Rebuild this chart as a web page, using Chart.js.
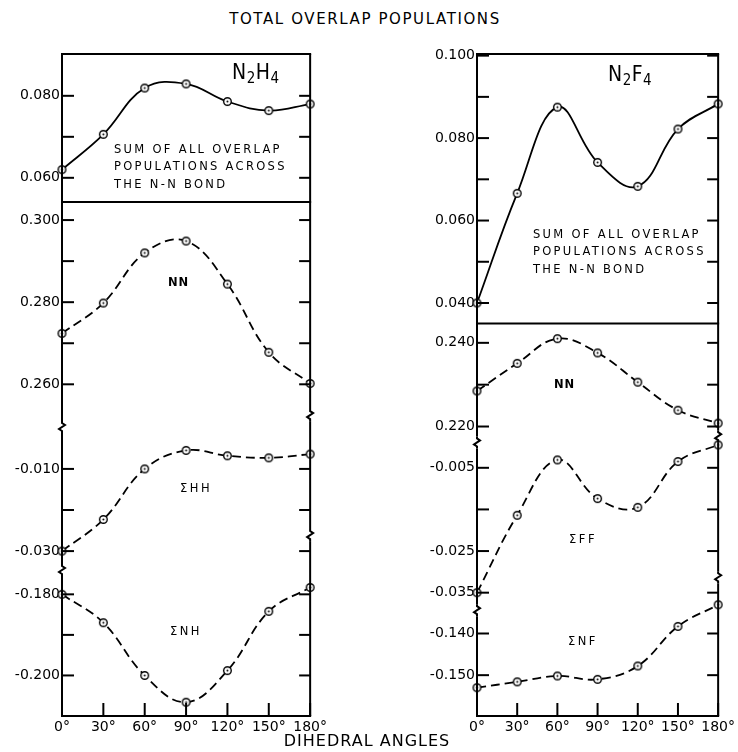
<!DOCTYPE html>
<html>
<head>
<meta charset="utf-8">
<script src="https://cdn.jsdelivr.net/npm/chart.js@4.4.0/dist/chart.umd.min.js"></script>
<style>
  body { margin: 0; background: #fff; width: 738px; height: 752px; position: relative; overflow: hidden; font-family: 'DejaVu Sans', sans-serif; color: #000; }
  #title { position: absolute; left: -4px; width: 738px; top: 10px; text-align: center; font-size: 15px; letter-spacing: 1.6px; line-height: 18px; }
  #xtitle { position: absolute; left: -2px; width: 738px; top: 731px; text-align: center; font-size: 16px; letter-spacing: 1px; line-height: 20px; }
  #leftBox { position: absolute; left: 0; top: 0; }
  #rightBox { position: absolute; left: 400px; top: 0; }
</style>
</head>
<body>
<div id="title">TOTAL OVERLAP POPULATIONS</div>
<canvas id="leftBox" width="330" height="752"></canvas>
<canvas id="rightBox" width="338" height="752"></canvas>
<div id="xtitle">DIHEDRAL ANGLES</div>
<script>
// dihedral angles (x axis)
var angles = [0, 30, 60, 90, 120, 150, 180];

// N2H4 overlap populations
var n2h4Sum = [0.0620, 0.0706, 0.0819, 0.0829, 0.0786, 0.0764, 0.0780];
var n2h4NN  = [0.2724, 0.2798, 0.2920, 0.2949, 0.2844, 0.2678, 0.2602];
var n2h4HH  = [-0.0300, -0.0223, -0.0100, -0.0055, -0.0068, -0.0073, -0.0064];
var n2h4NH  = [-0.1800, -0.1870, -0.2000, -0.2066, -0.1988, -0.1842, -0.1783];

// N2F4
var n2f4Sum = [0.0400, 0.0666, 0.0875, 0.0741, 0.0683, 0.0822, 0.0883];
var n2f4NN  = [0.2285, 0.2351, 0.2410, 0.2376, 0.2306, 0.2239, 0.2208];
var n2f4FF  = [-0.0350, -0.0164, -0.0031, -0.0124, -0.0145, -0.0035, 0.0005];
var n2f4NF  = [-0.1530, -0.1516, -0.1502, -0.1510, -0.1478, -0.1383, -0.1331];

// tick marks and which of them carry a label
var h4SumTicks = [0.06, 0.07, 0.08],              h4SumLabels = [0.06, 0.08];
var h4NNTicks  = [0.26, 0.27, 0.28, 0.29, 0.30],  h4NNLabels  = [0.26, 0.28, 0.30];
var h4HHTicks  = [-0.03, -0.02, -0.01],           h4HHLabels  = [-0.03, -0.01];
var h4NHTicks  = [-0.20, -0.19, -0.18],           h4NHLabels  = [-0.20, -0.18];
var f4SumTicks = [0.04, 0.05, 0.06, 0.07, 0.08, 0.09, 0.10], f4SumLabels = [0.04, 0.06, 0.08, 0.10];
var f4NNTicks  = [0.22, 0.23, 0.24],              f4NNLabels  = [0.22, 0.24];
var f4FFTicks  = [-0.035, -0.025, -0.015, -0.005], f4FFLabels = [-0.035, -0.025, -0.005];
var f4NFTicks  = [-0.15, -0.14],                  f4NFLabels  = [-0.15, -0.14];

var tickFont = { family: 'DejaVu Sans', size: 14 };

// small open circle with a dot, like the plotted points
function ringDot() {
  var c = document.createElement('canvas');
  c.width = c.height = 11;
  var g = c.getContext('2d');
  g.fillStyle = '#fff'; g.strokeStyle = '#000'; g.lineWidth = 1.4;
  g.beginPath(); g.arc(5.5, 5.5, 3.8, 0, 2 * Math.PI); g.fill(); g.stroke();
  g.fillStyle = '#000';
  g.beginPath(); g.arc(5.5, 5.5, 1, 0, 2 * Math.PI); g.fill();
  return c;
}
var dot = ringDot();

function near(list, v) {
  return list.some(function (l) { return Math.abs(l - v) < 1e-9; });
}

function yAxis(min, max, ticks, labels, weight, width) {
  return {
    type: 'linear', position: 'left', stack: 'panel', stackWeight: weight,
    min: min, max: max,
    grid: { display: false, drawTicks: false }, border: { display: false },
    afterBuildTicks: function (s) { s.ticks = ticks.map(function (v) { return { value: v }; }); },
    afterFit: function (s) { s.width = width; },
    ticks: {
      autoSkip: false, padding: 2, color: '#000', font: tickFont,
      callback: function (v) { return near(labels, v) ? v.toFixed(3) : ''; }
    }
  };
}

function series(vals, axis, dashed) {
  return {
    data: angles.map(function (a, i) { return { x: a, y: vals[i] }; }),
    yAxisID: axis, borderColor: '#000', borderWidth: 1.8,
    borderDash: dashed ? [9, 5] : [], tension: 0.4, fill: false, clip: false,
    pointStyle: dot, pointRadius: 4
  };
}

function zigzag(ctx, x, y) {
  ctx.beginPath();
  ctx.moveTo(x, y - 6);
  ctx.lineTo(x, y - 4);
  ctx.lineTo(x + 3, y - 2);
  ctx.lineTo(x - 3, y + 2);
  ctx.lineTo(x, y + 4);
  ctx.lineTo(x, y + 6);
  ctx.stroke();
}

// frame, inward ticks, axis breaks and in-plot lettering
function panelPlugin(cfg) {
  return {
    id: 'panelFrame',
    afterDraw: function (chart) {
      var ctx = chart.ctx, ca = chart.chartArea, sc = chart.scales;
      ctx.save();
      ctx.strokeStyle = '#000'; ctx.fillStyle = '#000';
      ctx.lineWidth = 2; ctx.setLineDash([]);

      // vertical axes with breaks
      function axisLine(x, breaks) {
        var ys = breaks.slice().sort(function (a, b) { return a - b; });
        var y0 = ca.top;
        ys.forEach(function (y) {
          ctx.beginPath(); ctx.moveTo(x, y0); ctx.lineTo(x, y - 6); ctx.stroke();
          zigzag(ctx, x, y);
          y0 = y + 6;
        });
        ctx.beginPath(); ctx.moveTo(x, y0); ctx.lineTo(x, ca.bottom); ctx.stroke();
      }
      var leftBreaks = cfg.breakAxes.map(function (id) { return sc[id].top; });
      var rightBreaks = cfg.rightBreaks.map(function (b) { return sc[b.axis].getPixelForValue(b.value); });
      axisLine(ca.left, leftBreaks);
      axisLine(ca.right, rightBreaks);

      // box top, separator, bottom
      var sep = sc[cfg.topAxis].bottom;
      [ca.top, sep, ca.bottom].forEach(function (y) {
        ctx.beginPath(); ctx.moveTo(ca.left - 1, y); ctx.lineTo(ca.right + 1, y); ctx.stroke();
      });

      // inward y ticks on both sides
      cfg.yAxes.forEach(function (id) {
        sc[id].ticks.forEach(function (t) {
          var y = sc[id].getPixelForValue(t.value);
          ctx.beginPath(); ctx.moveTo(ca.left, y); ctx.lineTo(ca.left + 12, y); ctx.stroke();
          ctx.beginPath(); ctx.moveTo(ca.right, y); ctx.lineTo(ca.right - 11, y); ctx.stroke();
        });
      });
      // inward x ticks
      sc.x.ticks.forEach(function (t) {
        var x = sc.x.getPixelForValue(t.value);
        ctx.beginPath(); ctx.moveTo(x, ca.bottom); ctx.lineTo(x, ca.bottom - 13); ctx.stroke();
      });

      // lettering
      ctx.textBaseline = 'alphabetic'; ctx.textAlign = 'left';
      var t = cfg.name, nx = ca.left + t.dx, ny = ca.top + t.dy;
      t.parts.forEach(function (p) {
        ctx.font = (p.sub ? '15px' : '21px') + " 'DejaVu Sans Condensed', 'DejaVu Sans'";
        ctx.fillText(p.s, nx, ny + (p.sub ? 4 : 0));
        nx += ctx.measureText(p.s).width + 0.5;
      });
      cfg.notes.forEach(function (n) {
        ctx.font = (n.bold ? 'bold ' : '') + "11.5px 'DejaVu Sans'";
        ctx.letterSpacing = n.spacing + 'px';
        ctx.fillText(n.text, ca.left + n.dx, ca.top + n.dy);
      });
      ctx.letterSpacing = '0px';
      ctx.restore();
    }
  };
}

function makeChart(id, yAxes, data, cfg, yWidth, padRight) {
  var scales = {
    x: {
      type: 'linear', min: 0, max: 180,
      grid: { display: false, drawTicks: false }, border: { display: false },
      afterBuildTicks: function (s) { s.ticks = angles.map(function (v) { return { value: v }; }); },
      afterFit: function (s) { s.height = 36; },
      ticks: { autoSkip: false, maxRotation: 0, padding: 3, color: '#000', font: tickFont,
        callback: function (v) { return v + '°'; } }
    }
  };
  yAxes.forEach(function (a) { scales[a.id] = yAxis(a.min, a.max, a.ticks, a.labels, a.weight, yWidth); });
  return new Chart(document.getElementById(id), {
    type: 'line',
    data: { datasets: data },
    options: {
      responsive: false, animation: false,
      layout: { padding: { top: 54, right: padRight, bottom: 0, left: 0 } },
      plugins: { legend: { display: false }, tooltip: { enabled: false } },
      scales: scales
    },
    plugins: [panelPlugin(cfg)]
  });
}

var sumNote = function (dx, dy) {
  return [
    { text: 'SUM OF ALL OVERLAP', dx: dx, dy: dy, spacing: 2.3 },
    { text: 'POPULATIONS ACROSS', dx: dx, dy: dy + 17.5, spacing: 2.3 },
    { text: 'THE N-N BOND', dx: dx, dy: dy + 35, spacing: 2.3 }
  ];
};

makeChart('leftBox', [
  { id: 'yNH', min: -0.210, max: -0.174, ticks: h4NHTicks, labels: h4NHLabels, weight: 146 },
  { id: 'yHH', min: -0.0346, max: 0.0002, ticks: h4HHTicks, labels: h4HHLabels, weight: 143 },
  { id: 'yNN', min: 0.2496, max: 0.3044, ticks: h4NNTicks, labels: h4NNLabels, weight: 225 },
  { id: 'yTop', min: 0.0541, max: 0.0902, ticks: h4SumTicks, labels: h4SumLabels, weight: 148 }
], [
  series(n2h4Sum, 'yTop', false),
  series(n2h4NN, 'yNN', true),
  series(n2h4HH, 'yHH', true),
  series(n2h4NH, 'yNH', true)
], {
  topAxis: 'yTop', yAxes: ['yTop', 'yNN', 'yHH', 'yNH'],
  breakAxes: ['yHH', 'yNH'],
  rightBreaks: [{ axis: 'yNN', value: 0.2525 }, { axis: 'yHH', value: -0.0261 }],
  name: { dx: 170, dy: 25, parts: [{ s: 'N' }, { s: '2', sub: true }, { s: 'H' }, { s: '4', sub: true }] },
  notes: sumNote(52, 98.5).concat([
    { text: 'NN', dx: 106, dy: 232, spacing: 1, bold: true },
    { text: 'ΣHH', dx: 118, dy: 438, spacing: 2.5 },
    { text: 'ΣNH', dx: 108, dy: 581, spacing: 2.5 }
  ])
}, 62, 19);

makeChart('rightBox', [
  { id: 'yNF', min: -0.1598, max: -0.1344, ticks: f4NFTicks, labels: f4NFLabels, weight: 106 },
  { id: 'yFF', min: -0.0392, max: 0.0011, ticks: f4FFTicks, labels: f4FFLabels, weight: 168 },
  { id: 'yNN', min: 0.2162, max: 0.2446, ticks: f4NNTicks, labels: f4NNLabels, weight: 119 },
  { id: 'yTop', min: 0.0350, max: 0.1004, ticks: f4SumTicks, labels: f4SumLabels, weight: 270 }
], [
  series(n2f4Sum, 'yTop', false),
  series(n2f4NN, 'yNN', true),
  series(n2f4FF, 'yFF', true),
  series(n2f4NF, 'yNF', true)
], {
  topAxis: 'yTop', yAxes: ['yTop', 'yNN', 'yFF', 'yNF'],
  breakAxes: ['yFF', 'yNF'],
  rightBreaks: [{ axis: 'yNN', value: 0.2177 }, { axis: 'yFF', value: -0.0313 }],
  name: { dx: 131, dy: 27, parts: [{ s: 'N' }, { s: '2', sub: true }, { s: 'F' }, { s: '4', sub: true }] },
  notes: sumNote(56, 183.5).concat([
    { text: 'NN', dx: 77, dy: 333.5, spacing: 1, bold: true },
    { text: 'ΣFF', dx: 92, dy: 488.5, spacing: 2.5 },
    { text: 'ΣNF', dx: 91, dy: 591, spacing: 2.5 }
  ])
}, 77, 11);
</script>
</body>
</html>
